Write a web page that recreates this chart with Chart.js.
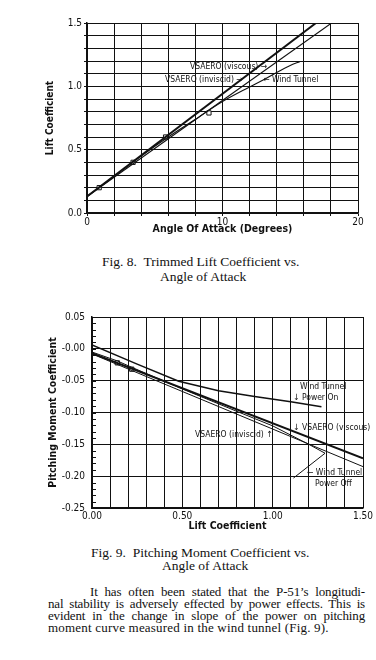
<!DOCTYPE html>
<html lang="en">

<head>
    <meta charset="UTF-8">
    <title>Fig. 8 / Fig. 9</title>
    <style>
        body { margin: 0; background: #fff; width: 376px; height: 660px; position: relative; overflow: hidden; }
        canvas { position: absolute; left: 0; }
        .txt { position: absolute; font-family: "Liberation Serif", serif; color: #111; white-space: nowrap; }
        .cap { font-size: 13.5px; line-height: 14px; }
        .par { font-size: 13px; line-height: 12px; letter-spacing: -0.15px; text-align: justify; text-align-last: justify; }
    </style>
</head>

<body>
    <canvas id="fig8" width="376" height="245" style="top:0"></canvas>
    <canvas id="fig9" width="376" height="250" style="top:290px"></canvas>

    <div class="txt cap" style="left:102px; top:255px">Fig. 8.&nbsp; Trimmed Lift Coefficient vs.</div>
    <div class="txt cap" style="left:160px; top:270px">Angle of Attack</div>

    <div class="txt cap" style="left:91px; top:546px">Fig. 9.&nbsp; Pitching Moment Coefficient vs.</div>
    <div class="txt cap" style="left:162px; top:559px">Angle of Attack</div>

    <div class="txt par" style="left:90px; width:275px; top:586px">It has often been stated that the P-51’s longitudi-</div>
    <div class="txt par" style="left:48px; width:317px; top:598px">nal stability is adversely effected by power effects. This is</div>
    <div class="txt par" style="left:48px; width:317px; top:610px">evident in the change in slope of the power on pitching</div>
    <div class="txt" style="left:48px; top:622px; font-size:13px; line-height:12px; letter-spacing:0.2px">moment curve measured in the wind tunnel (Fig. 9).</div>
</body>

</html>
<script src="https://cdn.jsdelivr.net/npm/chart.js"></script>
<script>
    // Fig. 8 - trimmed lift coefficient vs angle of attack
    const fig8InviscidX = [0, 16.9];
    const fig8InviscidY = [0.13, 1.5];
    const fig8ViscousX = [0, 18.05];
    const fig8ViscousY = [0.13, 1.5];
    const fig8TunnelX = [0, 2, 4, 6, 8, 10, 12, 13, 14, 15, 15.7];
    const fig8TunnelY = [0.13, 0.29, 0.45, 0.6, 0.74, 0.88, 0.995, 1.05, 1.11, 1.165, 1.195];
    const fig8PointsX = [0.9, 3.4, 5.8, 9.0];
    const fig8PointsY = [0.2, 0.4, 0.6, 0.79];
    const fig8XTicks = [0, 10, 20];
    const fig8YTicks = [0, 0.5, 1.0, 1.5];

    // Fig. 9 - pitching moment coefficient vs lift coefficient
    const fig9ViscousX = [0, 1.5];
    const fig9ViscousY = [-0.007, -0.172];
    const fig9InviscidX = [0, 1.5];
    const fig9InviscidY = [-0.008, -0.185];
    const fig9PowerOnX = [0, 0.25, 0.48, 0.7, 0.9, 1.1, 1.27];
    const fig9PowerOnY = [0.006, -0.024, -0.051, -0.066, -0.075, -0.083, -0.091];
    const fig9PowerOffX = [0, 0.14, 0.22, 0.5, 0.8, 1.0, 1.2, 1.29, 1.115];
    const fig9PowerOffY = [-0.005, -0.019, -0.029, -0.063, -0.098, -0.121, -0.150, -0.164, -0.203];
    const fig9PointsX = [0.14, 0.22];
    const fig9PointsY = [-0.022, -0.032];
    const fig9XTicks = [0, 0.5, 1.0, 1.5];

    const fig8Notes = [
        { text: 'VSAERO (viscous) →', x: 7.6, y: 1.153 },
        { text: 'VSAERO (inviscid) →', x: 5.76, y: 1.05 },
        { text: '← Wind Tunnel', x: 13.0, y: 1.05 }
    ];
    const fig9Notes = [
        { text: 'Wind Tunnel', x: 1.151, y: -0.060 },
        { text: '↓ Power On', x: 1.113, y: -0.077 },
        { text: 'VSAERO (inviscid) ↑', x: 0.57, y: -0.135 },
        { text: '↓ VSAERO (viscous)', x: 1.113, y: -0.124 },
        { text: '← Wind Tunnel', x: 1.19, y: -0.195 },
        { text: 'Power Off', x: 1.234, y: -0.212 }
    ];

    const INK = '#111';
    const PLOT_FONT = 'DejaVu Sans Condensed';

    function pts(xs, ys) {
        return xs.map((x, i) => ({ x: x, y: ys[i] }));
    }

    function onTick(list, v) {
        return list.some(t => Math.abs(t - v) < 1e-6);
    }

    function lineSet(xs, ys, width) {
        return {
            data: pts(xs, ys),
            showLine: true,
            borderColor: INK,
            borderWidth: width,
            pointRadius: 0,
            tension: 0
        };
    }

    function squareSet(xs, ys) {
        return {
            data: pts(xs, ys),
            showLine: false,
            pointStyle: 'rect',
            pointRadius: 3,
            pointBackgroundColor: '#fff',
            pointBorderColor: INK,
            pointBorderWidth: 1
        };
    }

    // writes the curve labels in data units
    function notesPlugin(notes) {
        return {
            id: 'notes',
            afterDatasetsDraw(chart) {
                const ctx = chart.ctx;
                const sx = chart.scales.x, sy = chart.scales.y;
                ctx.save();
                ctx.fillStyle = INK;
                ctx.font = '8.5px "' + PLOT_FONT + '"';
                ctx.textAlign = 'left';
                ctx.textBaseline = 'middle';
                notes.forEach(n => ctx.fillText(n.text, sx.getPixelForValue(n.x), sy.getPixelForValue(n.y)));
                ctx.restore();
            }
        };
    }

    // small inside ticks on the y axis of fig. 9
    const minorTicks = {
        id: 'minorTicks',
        afterDraw(chart) {
            const ctx = chart.ctx;
            const sy = chart.scales.y;
            const left = chart.chartArea.left;
            ctx.save();
            ctx.strokeStyle = INK;
            ctx.lineWidth = 1;
            for (let i = -25; i <= 5; i++) {
                const py = Math.round(sy.getPixelForValue(i / 100)) + 0.5;
                ctx.beginPath();
                ctx.moveTo(left, py);
                ctx.lineTo(left + 4, py);
                ctx.stroke();
            }
            ctx.restore();
        }
    };

    Chart.defaults.font.family = PLOT_FONT;
    Chart.defaults.color = INK;

    new Chart(document.getElementById('fig8'), {
        type: 'scatter',
        data: {
            datasets: [
                lineSet(fig8InviscidX, fig8InviscidY, 2),
                lineSet(fig8ViscousX, fig8ViscousY, 1.1),
                Object.assign(lineSet(fig8TunnelX, fig8TunnelY, 1.1), { tension: 0.3 }),
                squareSet(fig8PointsX, fig8PointsY)
            ]
        },
        options: {
            responsive: false,
            animation: false,
            devicePixelRatio: 1,
            layout: { padding: { left: 44, right: 18, top: 23, bottom: 9 } },
            plugins: { legend: { display: false }, tooltip: { enabled: false } },
            scales: {
                x: {
                    type: 'linear', min: 0, max: 20,
                    afterFit(s) { s.height = 23; },
                    grid: { color: INK, lineWidth: 1, tickLength: 3 },
                    border: { color: INK, width: 1.5 },
                    ticks: {
                        stepSize: 2, padding: 0, maxRotation: 0, autoSkip: false,
                        font: { size: 10 },
                        callback: v => onTick(fig8XTicks, v) ? String(v) : ''
                    },
                    title: {
                        display: true, text: 'Angle Of Attack (Degrees)', padding: 0,
                        font: { size: 10.5, weight: 'bold', lineHeight: 1.2 }
                    }
                },
                y: {
                    type: 'linear', min: 0, max: 1.5,
                    afterFit(s) { s.width = 43; },
                    grid: { color: INK, lineWidth: 1, tickLength: 3 },
                    border: { color: INK, width: 1.5 },
                    ticks: {
                        stepSize: 0.1, padding: 2, autoSkip: false,
                        font: { size: 10 },
                        callback: v => onTick(fig8YTicks, v) ? v.toFixed(1) : ''
                    },
                    title: {
                        display: true, text: 'Lift Coefficient', padding: 0,
                        font: { size: 10, weight: 'bold', lineHeight: 1.2 }
                    }
                }
            }
        },
        plugins: [notesPlugin(fig8Notes)]
    });

    new Chart(document.getElementById('fig9'), {
        type: 'scatter',
        data: {
            datasets: [
                lineSet(fig9ViscousX, fig9ViscousY, 2),
                lineSet(fig9InviscidX, fig9InviscidY, 1),
                lineSet(fig9PowerOnX, fig9PowerOnY, 1.5),
                lineSet(fig9PowerOffX, fig9PowerOffY, 1),
                squareSet(fig9PointsX, fig9PointsY)
            ]
        },
        options: {
            responsive: false,
            animation: false,
            devicePixelRatio: 1,
            layout: { padding: { left: 47, right: 13, top: 27, bottom: 7 } },
            plugins: { legend: { display: false }, tooltip: { enabled: false } },
            scales: {
                x: {
                    type: 'linear', min: 0, max: 1.5,
                    afterFit(s) { s.height = 25; },
                    grid: { color: INK, lineWidth: 1, drawTicks: false },
                    border: { color: INK, width: 1.5 },
                    ticks: {
                        stepSize: 0.1, padding: 2, maxRotation: 0, autoSkip: false,
                        font: { size: 10 },
                        callback: v => onTick(fig9XTicks, v) ? v.toFixed(2) : ''
                    },
                    title: {
                        display: true, text: 'Lift Coefficient', padding: 0,
                        font: { size: 10.5, weight: 'bold', lineHeight: 1.2 }
                    }
                },
                y: {
                    type: 'linear', min: -0.25, max: 0.05,
                    afterFit(s) { s.width = 45; },
                    grid: { color: INK, lineWidth: 1, drawTicks: false },
                    border: { color: INK, width: 1.5 },
                    ticks: {
                        stepSize: 0.05, padding: 7, autoSkip: false,
                        font: { size: 10 },
                        callback: v => Math.abs(v) < 1e-9 ? '-0.00' : v.toFixed(2)
                    },
                    title: {
                        display: true, text: 'Pitching Moment Coefficient', padding: 0,
                        font: { size: 10.5, weight: 'bold', lineHeight: 1.2 }
                    }
                }
            }
        },
        plugins: [notesPlugin(fig9Notes), minorTicks]
    });
</script>
